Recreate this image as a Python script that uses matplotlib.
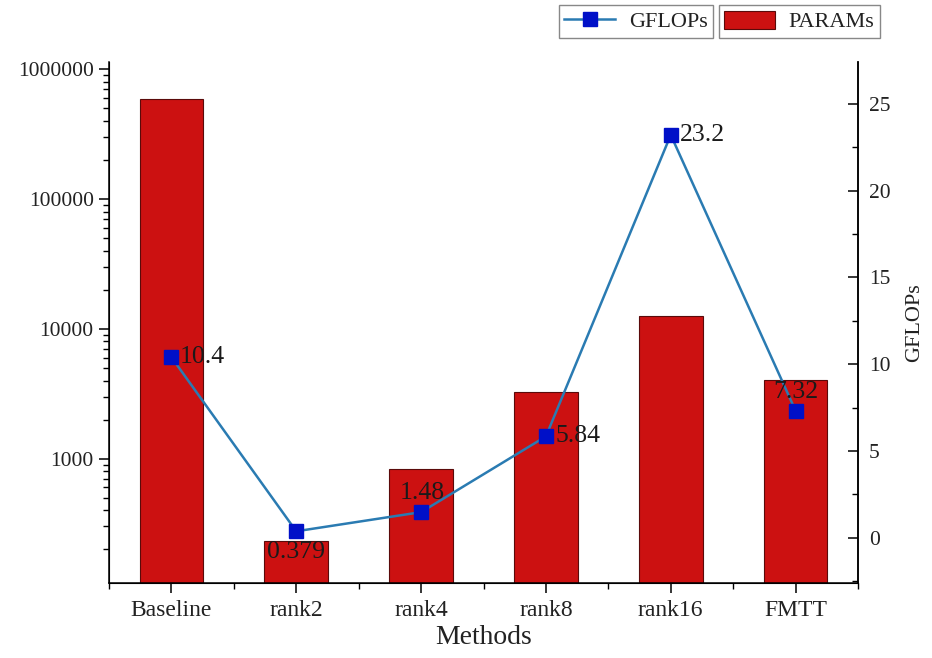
import matplotlib
matplotlib.use("Agg")
import matplotlib.pyplot as plt
from matplotlib.ticker import FixedLocator, LogLocator, MultipleLocator, NullFormatter
from matplotlib.lines import Line2D
from matplotlib.patches import Patch

methods = ["Baseline", "rank2", "rank4", "rank8", "rank16", "FMTT"]
params = [589824, 232, 838, 3250, 12500, 4070]
gflops = [10.4, 0.379, 1.48, 5.84, 23.2, 7.32]
gflops_labels = ["10.4", "0.379", "1.48", "5.84", "23.2", "7.32"]
label_offsets = [(8, 0, "left"), (0, -21, "center"), (1, 19, "center"),
                 (10, 0, "left"), (9, 0, "left"), (0, 19, "center")]

plt.rcParams['font.family'] = ['Liberation Serif', 'DejaVu Serif']

fig = plt.figure(figsize=(9.32, 6.58), dpi=100)
ax = fig.add_axes([109/932, 1-583/658, (858-109)/932, (583-62)/658])
x = list(range(len(methods)))

ax.bar(x, params, width=0.51, color="#CC1111", edgecolor="#5a0a0a", linewidth=0.8, zorder=2)
ax.set_yscale("log")
ax.set_ylim(110, 1.14e6)
ax.set_xlim(-0.5, 5.5)
ax.yaxis.set_major_locator(FixedLocator([1000, 10000, 100000, 1000000]))
ax.set_yticklabels(["1000", "10000", "100000", "1000000"])
ax.yaxis.set_minor_locator(LogLocator(base=10, subs=range(2, 10)))
ax.yaxis.set_minor_formatter(NullFormatter())
ax.set_xticks(x)
ax.set_xticklabels(methods)
ax.xaxis.set_minor_locator(FixedLocator([i - 0.5 for i in range(len(methods) + 1)]))
ax.tick_params(axis='both', which='major', direction='out', length=7, width=1.1, labelsize=15.5, pad=4,
               labelcolor="#222222")
ax.tick_params(axis='x', which='major', labelsize=17, pad=5)
ax.tick_params(axis='both', which='minor', direction='out', length=4, width=1.0)
ax.set_xlabel("Methods", fontsize=20, labelpad=3, color="#222222")
ax.spines['top'].set_visible(False)
for s in ['left', 'bottom', 'right']:
    ax.spines[s].set_linewidth(1.1)

ax2 = ax.twinx()
ax2.set_ylim(-2.6, 27.4)
ax2.yaxis.set_major_locator(MultipleLocator(5))
ax2.yaxis.set_minor_locator(MultipleLocator(2.5))
ax2.tick_params(axis='y', which='major', direction='in', length=7, width=1.1, labelsize=15.5, pad=8,
                labelcolor="#222222")
ax2.tick_params(axis='y', which='minor', direction='in', length=4, width=1.0)
ax2.spines['top'].set_visible(False)
ax2.spines['right'].set_linewidth(1.1)
ax2.set_ylabel("GFLOPs", fontsize=16, labelpad=10, color="#222222")
ax2.plot(x, gflops, color="#2A7BB2", linewidth=1.8, marker="s", markersize=10,
         markerfacecolor="#0010C8", markeredgecolor="#0010C8", zorder=3)
for xi, yi, lab, (dx, dy, ha) in zip(x, gflops, gflops_labels, label_offsets):
    ax2.annotate(lab, (xi, yi), xytext=(dx, dy), textcoords='offset pixels',
                 ha=ha, va='center', fontsize=18.5, color="#1a1a1a")

h1 = Line2D([], [], color="#2A7BB2", linewidth=1.8, marker="s", markersize=10,
            markerfacecolor="#0010C8", markeredgecolor="#0010C8")
h2 = Patch(facecolor="#CC1111", edgecolor="#5a0a0a", linewidth=0.8)
for h, lab, xa in [(h1, "GFLOPs", 713/932), (h2, "PARAMs", 880/932)]:
    lg = fig.legend([h], [lab], loc='upper right', bbox_to_anchor=(xa, 1-5/658),
                    fontsize=16, frameon=True, fancybox=False, framealpha=1,
                    edgecolor="#888888", borderaxespad=0, handlelength=2.3,
                    handleheight=0.9, borderpad=0.25, handletextpad=0.6,
                    labelcolor="#222222")
    lg.get_frame().set_linewidth(1.0)

fig.savefig("out.png", dpi=100)
